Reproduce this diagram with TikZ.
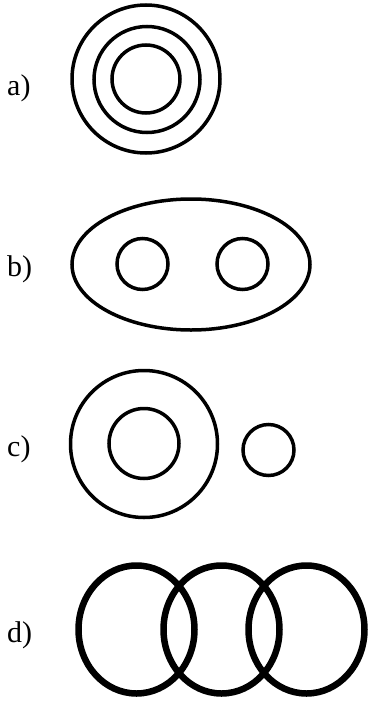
\documentclass[tikz,border=0pt]{standalone}
\usepackage{fontspec}
\setmainfont{Liberation Serif}
\usetikzlibrary{calc}
\tikzset{
  ring/.style={black, line width=3.5pt},
  fatring/.style={black, line width=6.5pt},
  tag/.style={anchor=base west, inner sep=0pt, font=\fontsize{30}{34}\selectfont}
}
\begin{document}
\begin{tikzpicture}[x=1pt, y=-1pt]
            \useasboundingbox (0,0) rectangle (369,704);
            % a)
            \draw[ring] (146,79) circle (74);
            \draw[ring] (147,79.5) circle (53);
            \draw[ring] (146,79) circle (34);
            % b)
            \draw[ring] (191,264.5) ellipse (119 and 65.5);
            \draw[ring] (142.5,264) circle (25.5);
            \draw[ring] (242.5,264) circle (25.5);
            % c)
            \draw[ring] (144,444) circle (73.5);
            \draw[ring] (144,443.5) circle (35);
            \draw[ring] (268.5,450) circle (25.5);
            % d)
            \draw[fatring] (136.5,629.5) ellipse (58 and 64);
            \draw[fatring] (221.5,629.5) ellipse (58 and 64);
            \draw[fatring] (306.5,629.5) ellipse (58 and 64);
            \node[tag] (la) at (7,95) {a)};
            \node[tag] (lb) at (7,276.5) {b)};
            \node[tag] (lc) at (7,456.5) {c)};
            \node[tag] (ld) at (7,642.5) {d)};
        \end{tikzpicture}
\end{document}
